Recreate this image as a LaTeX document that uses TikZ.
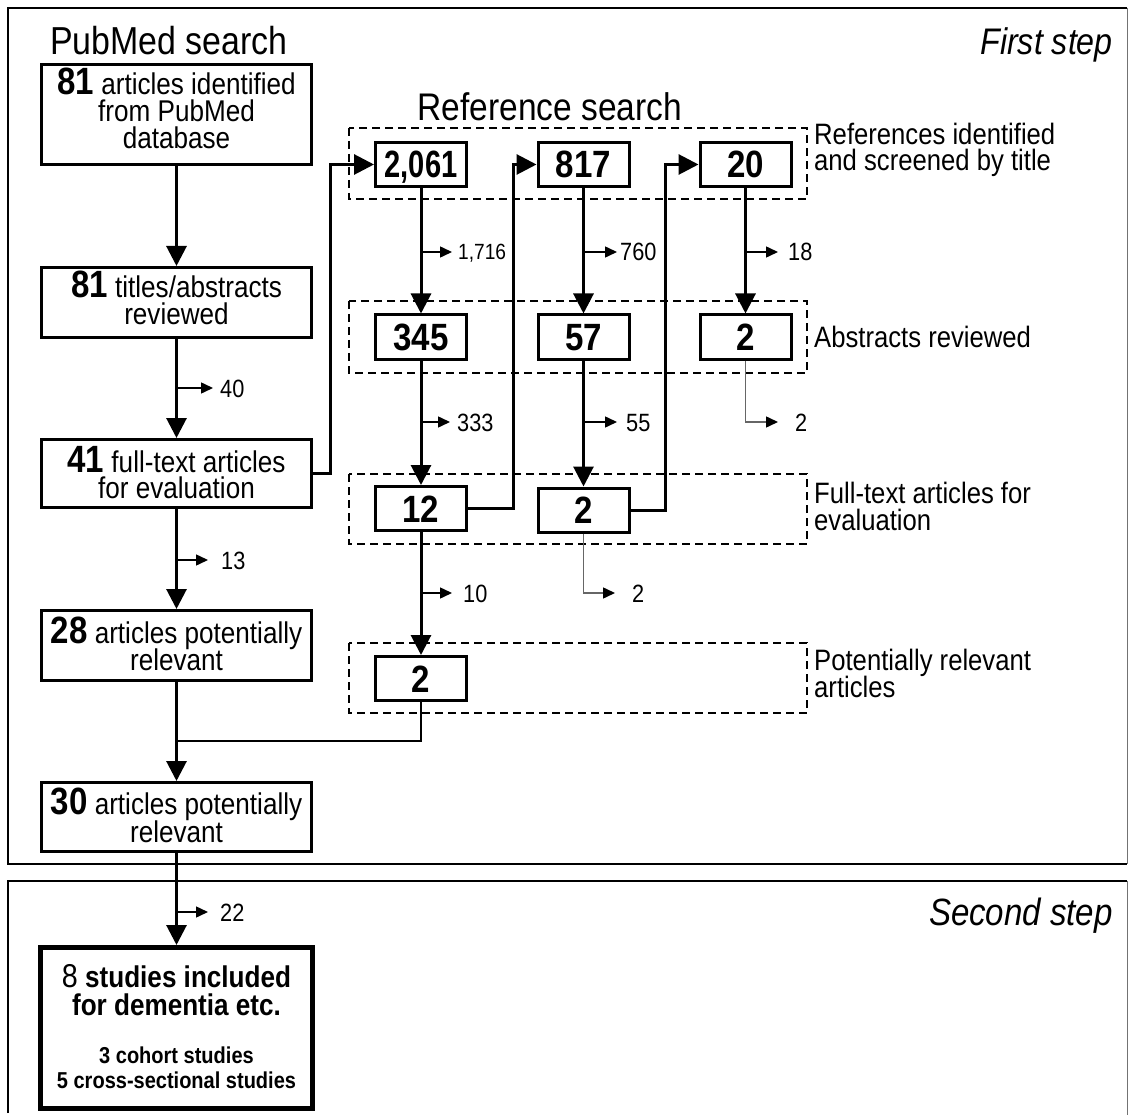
\documentclass[tikz,border=0pt]{standalone}
\usepackage{fontspec}
\setmainfont[FakeStretch=0.87]{Liberation Sans}
\usetikzlibrary{arrows.meta}
\newcommand\bnum[1]{{\fontsize{38}{38}\selectfont\bfseries #1}}
\begin{document}
\begin{tikzpicture}[x=1pt,y=-1pt,
  box/.style={draw, line width=3pt, minimum width=270pt, inner sep=0pt},
  numbox/.style={draw, line width=3pt, minimum width=91pt, minimum height=44pt, inner sep=0pt,
    text height=27pt, text depth=0pt, font=\fontsize{38}{38}\selectfont\bfseries},
  tl/.style={anchor=base, inner sep=0pt, font=\fontsize{30}{30}\selectfont},
  rl/.style={anchor=base west, inner sep=0pt, font=\fontsize{29.5}{29.5}\selectfont},
  lbl/.style={anchor=base west, inner sep=0pt, font=\fontsize{25}{25}\selectfont},
  main/.style={line width=3pt, -{Triangle[length=20pt,width=20pt]}},
  side/.style={line width=1.5pt, -{Triangle[length=12pt,width=11pt]}},
  xside/.style={line width=1.5pt, draw=black!60, -{Triangle[length=12pt,width=11pt,color=black]}},
  dbox/.style={draw, line width=1.8pt, dash pattern=on 8pt off 5pt},
  frame/.style={line width=2pt}
]
\useasboundingbox (0,0) rectangle (1130,1115);

% ---------- frames ----------
\draw[frame] (1127,8) -- (8,8) -- (8,864) -- (1127,864);
\draw[draw=black!55, line width=1pt] (1127,8) -- (1127,864);
\draw[frame] (8,1113) -- (8,881) -- (1127,881);
\draw[draw=black!55, line width=1pt] (1127,881) -- (1127,1115);

\node[anchor=base east, inner sep=0pt, font=\fontsize{37}{37}\selectfont\itshape] (first) at (1113,55) {First step};
\node[anchor=base east, inner sep=0pt, font=\fontsize{38}{38}\selectfont\itshape] (second) at (1113,925) {Second step};

% ---------- titles ----------
\node[anchor=base west, inner sep=0pt, font=\fontsize{39}{39}\selectfont] (tpub) at (50,55) {PubMed search};
\node[anchor=base, inner sep=0pt, font=\fontsize{38.5}{38.5}\selectfont] (tref) at (550,121) {Reference search};

% ---------- left column boxes ----------
\node[box, minimum height=100pt] (b1) at (176.5,114.5) {};
\node[box, minimum height=70pt] (b2) at (176.5,302.5) {};
\node[box, minimum height=68pt] (b3) at (176.5,473.5) {};
\node[box, minimum height=70pt] (b4) at (176.5,645.5) {};
\node[box, minimum height=69pt] (b5) at (176.5,817) {};
\node[draw, line width=5pt, minimum width=272pt, minimum height=161pt, inner sep=0pt] (b6) at (176.5,1028) {};

\node[tl] (b1t1) at (176.5,95) {\bnum{81} articles identified};
\node[tl] (b1t2) at (176.5,122) {from PubMed};
\node[tl] (b1t3) at (176.5,149) {database};
\node[tl] (b2t1) at (176.5,298) {\bnum{81} titles/abstracts};
\node[tl] (b2t2) at (176.5,325) {reviewed};
\node[tl] (b3t1) at (176.5,472) {\bnum{41} full-text articles};
\node[tl] (b3t2) at (176.5,498) {for evaluation};
\node[tl] (b4t1) at (176.5,643) {\bnum{28} articles potentially};
\node[tl] (b4t2) at (176.5,670) {relevant};
\node[tl] (b5t1) at (176.5,814) {\bnum{30} articles potentially};
\node[tl] (b5t2) at (176.5,842) {relevant};
\node[tl, font=\fontsize{30}{30}\selectfont\bfseries] (b6t1) at (176.5,987) {{\fontsize{33}{33}\selectfont\mdseries 8} studies included};
\node[tl, font=\fontsize{30}{30}\selectfont\bfseries] (b6t2) at (176.5,1015) {for dementia etc.};
\node[tl, font=\fontsize{23}{23}\selectfont\bfseries] (b6t3) at (176.5,1063) {3 cohort studies};
\node[tl, font=\fontsize{23}{23}\selectfont\bfseries] (b6t4) at (176.5,1088) {5 cross-sectional studies};

% ---------- dashed groups ----------
\draw[dbox] (349,128) rectangle (807,199);
\draw[dbox] (349,301) rectangle (807,373);
\draw[dbox] (349,474) rectangle (807,544);
\draw[dbox] (349,643) rectangle (807,713);

\node[rl] (r1a) at (814,145) {References identified};
\node[rl] (r1b) at (814,171) {and screened by title};
\node[rl] (r2a) at (814,348) {Abstracts reviewed};
\node[rl] (r3a) at (814,503) {Full-text articles for};
\node[rl] (r3b) at (814,530) {evaluation};
\node[rl] (r4a) at (814,670) {Potentially relevant};
\node[rl] (r4b) at (814,697) {articles};

% ---------- number boxes ----------
\node[numbox] (n2061) at (421,164.5) {\scalebox{0.88}[1]{2,061}};
\node[numbox] (n817) at (583.5,164.5) {817};
\node[numbox] (n20) at (745.5,164.5) {20};
\node[numbox] (n345) at (421,337) {345};
\node[numbox] (n57) at (583.5,337) {57};
\node[numbox] (n2a) at (745.5,337) {2};
\node[numbox] (n12) at (421,508.5) {12};
\node[numbox] (n2b) at (583.5,510) {2};
\node[numbox] (n2c) at (421,678.5) {2};

% ---------- main connectors ----------
\draw[main] (b1.south) -- (b2.north);
\draw[main] (b2.south) -- (b3.north);
\draw[main] (b3.south) -- (b4.north);
\draw[main] (b4.south) -- (b5.north);
\draw[main] (b5.south) -- (b6.north);

\draw[main] (b3.east) -- ++(17,0) |- (n2061.west);
\draw[main] (n12.east) -- ++(45,0) |- (n817.west);
\draw[main] (n2b.east) -- ++(35,0) |- (n20.west);

\draw[main] (n2061.south) -- (n345.north);
\draw[main] (n817.south) -- (n57.north);
\draw[main] (n20.south) -- (n2a.north);
\draw[main] (n345.south) -- (n12.north);
\draw[main] (n57.south) -- (n2b.north);
\draw[main] (n12.south) -- (n2c.north);

\coordinate (merge) at (176.5,741);
\draw[line width=2.5pt] (n2c.south) |- (merge);

% ---------- side (excluded) arrows ----------
\coordinate (c40) at (176.5,388);   \coordinate (e40) at (213,388);
\coordinate (c13) at (176.5,560);   \coordinate (e13) at (208,560);
\coordinate (c22) at (176.5,912);   \coordinate (e22) at (208,912);
\coordinate (c1716) at (421,252);   \coordinate (e1716) at (452,252);
\coordinate (c760) at (583.5,252);  \coordinate (e760) at (617,252);
\coordinate (c18) at (745.5,252);   \coordinate (e18) at (778,252);
\coordinate (c333) at (421,422);    \coordinate (e333) at (450,422);
\coordinate (c55) at (583.5,422);   \coordinate (e55) at (617,422);
\coordinate (c10) at (421,593);     \coordinate (e10) at (452,593);
\coordinate (e2a) at (778,422);
\coordinate (e2b) at (615,593);

\draw[side] (c40) -- (e40);
\draw[side] (c13) -- (e13);
\draw[side] (c22) -- (e22);
\draw[side] (c1716) -- (e1716);
\draw[side] (c760) -- (e760);
\draw[side] (c18) -- (e18);
\draw[side] (c333) -- (e333);
\draw[side] (c55) -- (e55);
\draw[side] (c10) -- (e10);
\draw[xside] (n2a.south) |- (e2a);
\draw[xside] (n2b.south) |- (e2b);

\node[lbl] (l40) at (220,397) {40};
\node[lbl] (l13) at (221,569) {13};
\node[lbl] (l22) at (220,921) {22};
\node[lbl, font=\fontsize{22}{22}\selectfont] (l1716) at (458,260) {1,716};
\node[lbl] (l760) at (620,261) {760};
\node[lbl] (l18) at (788,261) {18};
\node[lbl] (l333) at (457,431) {333};
\node[lbl] (l55) at (626,431) {55};
\node[lbl] (l2a) at (795,431) {2};
\node[lbl] (l10) at (463,602) {10};
\node[lbl] (l2b) at (632,602) {2};
\end{tikzpicture}
\end{document}
